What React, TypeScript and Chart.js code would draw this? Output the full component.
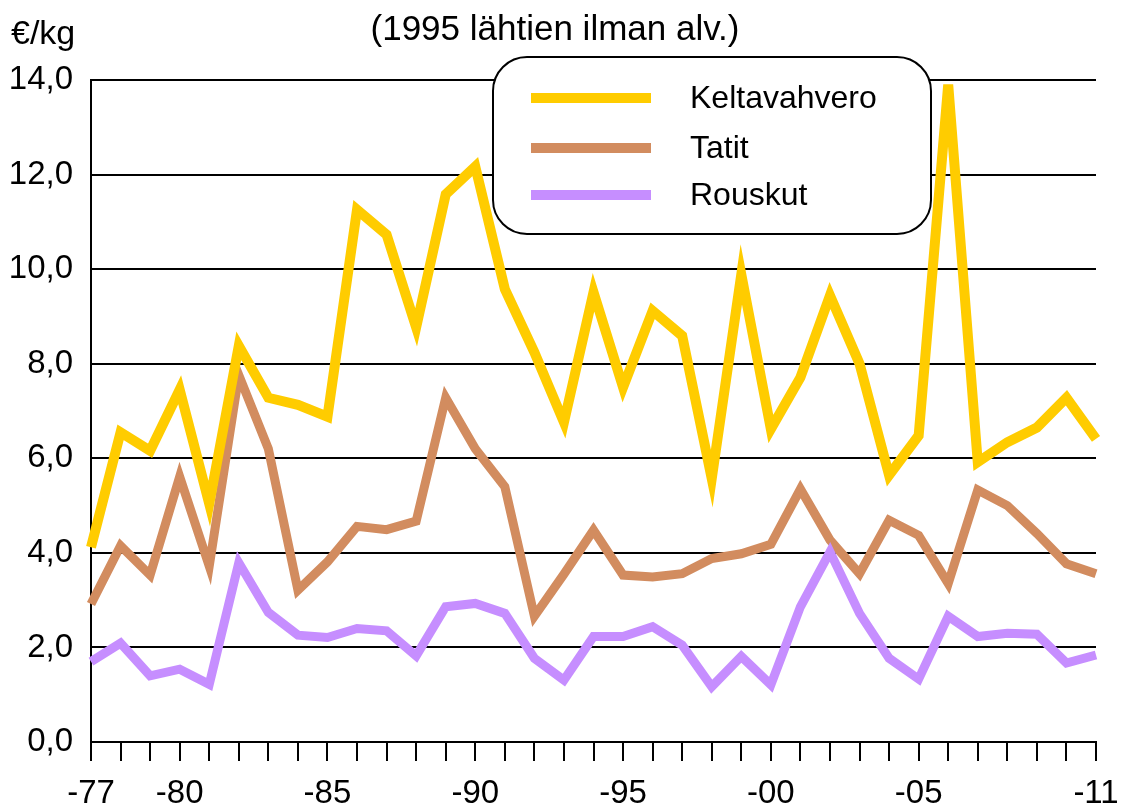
import React, { useEffect, useRef } from "react";
import { Chart, registerables } from "chart.js";

Chart.register(...registerables);

const years = [
  1977, 1978, 1979, 1980, 1981, 1982, 1983, 1984, 1985, 1986, 1987, 1988,
  1989, 1990, 1991, 1992, 1993, 1994, 1995, 1996, 1997, 1998, 1999, 2000,
  2001, 2002, 2003, 2004, 2005, 2006, 2007, 2008, 2009, 2010, 2011,
];

const labeledYears = [1977, 1980, 1985, 1990, 1995, 2000, 2005, 2011];
const xTickLabels = ["-77", "-80", "-85", "-90", "-95", "-00", "-05", "-11"];

const seriesNames = ["Keltavahvero", "Tatit", "Rouskut"];

const keltavahvero = [
  4.12, 6.55, 6.16, 7.45, 5.04, 8.38, 7.28, 7.13, 6.88, 11.26, 10.73, 8.77,
  11.58, 12.17, 9.58, 8.24, 6.76, 9.51, 7.5, 9.12, 8.59, 5.57, 9.89, 6.62,
  7.71, 9.44, 8.0, 5.64, 6.48, 13.9, 5.92, 6.34, 6.65, 7.28, 6.41,
];

const tatit = [
  2.92, 4.15, 3.53, 5.61, 3.72, 7.76, 6.2, 3.21, 3.81, 4.56, 4.49, 4.67,
  7.28, 6.2, 5.4, 2.66, 3.55, 4.48, 3.53, 3.49, 3.56, 3.88, 3.98, 4.18,
  5.35, 4.27, 3.56, 4.69, 4.37, 3.35, 5.33, 5.0, 4.41, 3.77, 3.56,
];

const rouskut = [
  1.7, 2.09, 1.4, 1.54, 1.22, 3.79, 2.74, 2.26, 2.21, 2.4, 2.35, 1.82,
  2.86, 2.93, 2.72, 1.77, 1.31, 2.23, 2.23, 2.44, 2.05, 1.17, 1.81, 1.21,
  2.86, 4.02, 2.72, 1.77, 1.33, 2.66, 2.23, 2.3, 2.28, 1.67, 1.84,
];

const colors = ["#FFCC00", "#D28C5F", "#C68EFF"];
const widths = [10, 9, 9];

const titleText = "(1995 lähtien ilman alv.)";
const unitText = "€/kg";
const FONT = "'Liberation Sans', Arial, sans-serif";

function roundRect(ctx: CanvasRenderingContext2D, x: number, y: number, w: number, h: number, r: number) {
  ctx.beginPath();
  ctx.moveTo(x + r, y);
  ctx.lineTo(x + w - r, y);
  ctx.arcTo(x + w, y, x + w, y + r, r);
  ctx.lineTo(x + w, y + h - r);
  ctx.arcTo(x + w, y + h, x + w - r, y + h, r);
  ctx.lineTo(x + r, y + h);
  ctx.arcTo(x, y + h, x, y + h - r, r);
  ctx.lineTo(x, y + r);
  ctx.arcTo(x, y, x + r, y, r);
  ctx.closePath();
}

const decorPlugin = {
  id: "decor",
  afterDraw(chart: any) {
    const ctx: CanvasRenderingContext2D = chart.ctx;
    ctx.save();
    ctx.fillStyle = "#000";
    ctx.font = `35px ${FONT}`;
    ctx.textBaseline = "middle";
    ctx.textAlign = "center";
    ctx.fillText(titleText, 555, 30);
    ctx.font = `34px ${FONT}`;
    ctx.textAlign = "left";
    ctx.fillText(unitText, 11, 35);

    // legend box
    const bx = 493, by = 57, bw = 438, bh = 177;
    roundRect(ctx, bx, by, bw, bh, 34);
    ctx.fillStyle = "#fff";
    ctx.fill();
    ctx.lineWidth = 2;
    ctx.strokeStyle = "#000";
    ctx.stroke();

    const rowsY = [98, 148, 195];
    chart.data.datasets.forEach((ds: any, i: number) => {
      ctx.beginPath();
      ctx.lineWidth = 10;
      ctx.lineCap = "butt";
      ctx.strokeStyle = ds.borderColor;
      ctx.moveTo(531, rowsY[i]);
      ctx.lineTo(651, rowsY[i]);
      ctx.stroke();
      ctx.fillStyle = "#000";
      ctx.font = `32px ${FONT}`;
      ctx.textAlign = "left";
      ctx.textBaseline = "middle";
      ctx.fillText(ds.label, 690, rowsY[i] + 1);
    });
    ctx.restore();
  },
};

export default function App() {
  const ref = useRef<HTMLCanvasElement | null>(null);

  useEffect(() => {
    document.body.style.margin = "0";
    const canvas = ref.current;
    if (!canvas) return;
    const seriesData = [keltavahvero, tatit, rouskut];
    const chart = new Chart(canvas, {
      type: "line",
      data: {
        labels: years.map(String),
        datasets: seriesData.map((d, i) => ({
          label: seriesNames[i],
          data: d,
          borderColor: colors[i],
          backgroundColor: colors[i],
          borderWidth: widths[i],
          pointRadius: 0,
          tension: 0,
          borderJoinStyle: "miter" as const,
          borderCapStyle: "butt" as const,
          order: i === 0 ? 1 : i === 2 ? 2 : 3,
        })),
      },
      options: {
        animation: false,
        responsive: false,
        maintainAspectRatio: false,
        layout: { padding: { top: 80, right: 30, left: 0, bottom: 0 } },
        plugins: {
          legend: { display: false },
          tooltip: { enabled: false },
          title: { display: false },
        },
        scales: {
          x: {
            type: "category",
            offset: false,
            grid: {
              display: true,
              drawOnChartArea: false,
              drawTicks: true,
              tickLength: 19,
              color: "#000",
              lineWidth: 2,
            },
            border: { display: true, color: "#000", width: 2 },
            ticks: {
              autoSkip: false,
              maxRotation: 0,
              minRotation: 0,
              padding: 13,
              color: "#000",
              font: { family: FONT, size: 33 },
              callback: (_v: any, idx: number) => {
                const y = years[idx];
                const k = labeledYears.indexOf(y);
                return k >= 0 ? xTickLabels[k] : "";
              },
            },
            afterFit: (scale: any) => {
              scale.height = 69;
              scale.paddingLeft = 0;
              scale.paddingRight = 0;
            },
          },
          y: {
            min: 0,
            max: 14,
            grid: {
              color: "#000",
              lineWidth: 2,
              drawTicks: false,
            },
            border: { display: true, color: "#000", width: 2 },
            ticks: {
              stepSize: 2,
              padding: 18,
              color: "#000",
              font: { family: FONT, size: 33 },
              callback: (v: any) => Number(v).toFixed(1).replace(".", ","),
            },
            afterFit: (scale: any) => {
              scale.width = 91;
              scale.paddingTop = 0;
              scale.paddingBottom = 0;
            },
          },
        },
      },
      plugins: [decorPlugin],
    });
    return () => chart.destroy();
  }, []);

  return (
    <div style={{ width: 1126, height: 811, background: "#fff" }}>
      <canvas ref={ref} width={1126} height={811} style={{ display: "block" }} />
    </div>
  );
}
